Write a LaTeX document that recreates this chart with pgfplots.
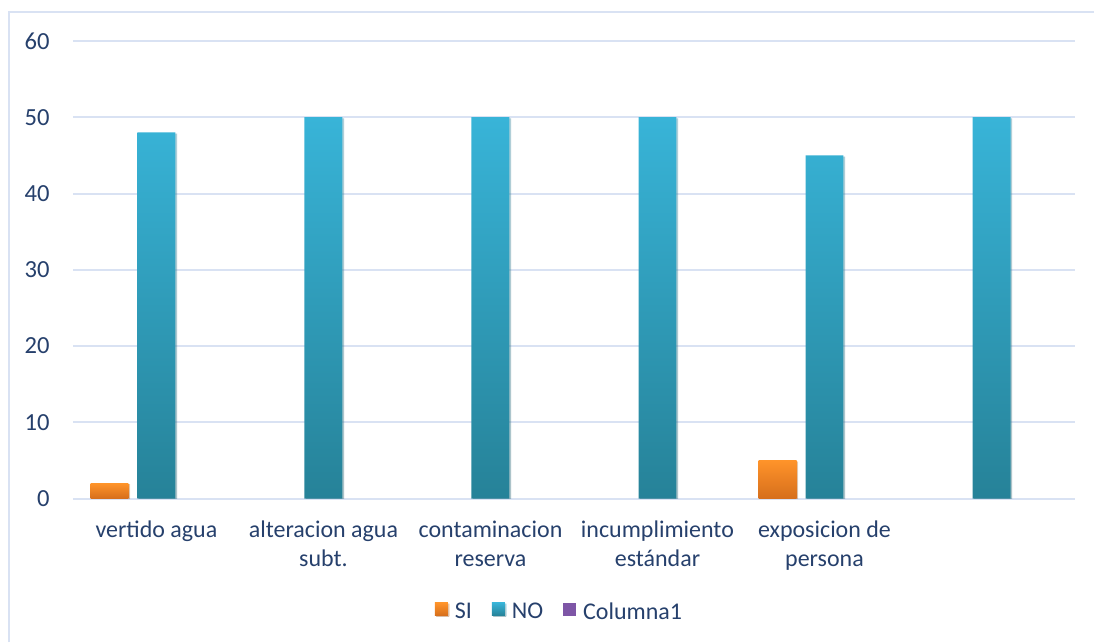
\documentclass[border=0pt]{standalone}
\usepackage{pgfplots}
\pgfplotsset{compat=1.18}
\usetikzlibrary{shadows}
\usepackage{fontspec}
\setmainfont{Carlito}

\definecolor{txt}{RGB}{38,64,108}
\definecolor{gridc}{RGB}{217,226,243}
\definecolor{noTop}{RGB}{56,180,216}
\definecolor{noBot}{RGB}{38,130,152}
\definecolor{siTop}{RGB}{255,148,42}
\definecolor{siBot}{RGB}{214,110,28}
\definecolor{purp}{RGB}{126,86,166}

\tikzset{barshadow/.style={drop shadow={shadow xshift=0.8pt, shadow yshift=-0.6pt, opacity=0.25, fill=black!60}}}

\begin{document}
\begin{tikzpicture}[x=1pt,y=1pt]
\path (0,0) rectangle (547.5,321.5);
\draw[gridc, line width=1pt] (4.5,0) -- (4.5,315.5) -- (547.5,315.5);
\begin{axis}[
  at={(36.5pt,72pt)}, anchor=south west,
  scale only axis, width=501.5pt, height=229pt,
  xmin=-0.5, xmax=5.5, ymin=0, ymax=60,
  ytick={0,10,...,60},
  xtick={0,...,5},
  xticklabels={vertido agua, alteracion agua\\subt., contaminacion\\reserva, incumplimiento\\estándar, exposicion de\\persona, {}},
  axis line style={draw=none},
  tick style={draw=none},
  ymajorgrids,
  major grid style={gridc, line width=1pt},
  /pgf/number format/assume math mode=true,
  yticklabel style={font=\fontsize{12.3}{14}\selectfont, text=txt, inner sep=0pt, xshift=-11.5pt},
  xticklabel style={font=\fontsize{12}{14.5}\selectfont, text=txt, align=center, inner sep=0pt, yshift=-11pt},
  legend columns=-1,
  legend style={at={(0.4865,-0.249)}, anchor=center, draw=none, fill=none,
    font=\fontsize{12}{14}\selectfont, text=txt,
    /tikz/every odd column/.append style={column sep=1.5pt},
    /tikz/every even column/.append style={column sep=8pt}},
  legend image code/.code={\path[#1] (0pt,-1.6pt) rectangle (6.5pt,4.9pt);},
]
% SI
\addplot[ybar, bar width=19pt, bar shift=-23.5pt, draw=none, barshadow, top color=siTop, bottom color=siBot]
  coordinates {(0,2)};
\addlegendentry{SI}
\addplot[ybar, bar width=19pt, bar shift=-23.5pt, draw=none, barshadow, top color=siTop, bottom color=siBot, forget plot]
  coordinates {(4,5)};
% NO
\addplot[ybar, bar width=19pt, bar shift=0pt, draw=none, barshadow, top color=noTop, bottom color=noBot]
  coordinates {(0,48) (1,50) (2,50) (3,50) (4,45) (5,50)};
\addlegendentry{NO}
% Columna1 (all zero)
\addlegendimage{fill=purp, draw=none}
\addlegendentry{Columna1}
\end{axis}
\end{tikzpicture}
\end{document}
